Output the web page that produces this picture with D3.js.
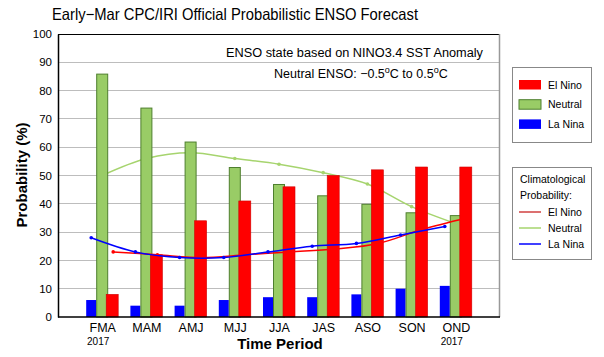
<!DOCTYPE html>
<html>
<head>
<meta charset="utf-8">
<script src="https://cdn.jsdelivr.net/npm/d3@7"></script>
<style>
  html, body { margin: 0; padding: 0; background: #fff; }
  svg { display: block; font-family: "Liberation Sans", Arial, Helvetica, sans-serif; }
</style>
</head>
<body>
<svg id="chart" width="604" height="357"></svg>
<script>
// ---- Data ----
const categories = ["FMA", "MAM", "AMJ", "MJJ", "JJA", "JAS", "ASO", "SON", "OND"];
const yearLabels = ["2017", "", "", "", "", "", "", "", "2017"];
const laNina  = [6, 4, 4, 6, 7, 7, 8, 10, 11];
const neutral = [86, 74, 62, 53, 47, 43, 40, 37, 36];
const elNino  = [8, 22, 34, 41, 46, 50, 52, 53, 53];
const climElNino  = [23, 22, 21, 22, 23, 24, 26, 31, 35];
const climNeutral = [50, 56, 58, 56, 54, 51, 47, 39, 33];
const climLaNina  = [28, 23, 21, 21, 23, 25, 26, 29, 32];
const yTicks = [0, 10, 20, 30, 40, 50, 60, 70, 80, 90, 100];

// ---- Colours ----
const cRed = "#FF0000", cGreen = "#99CC66", cGreenEdge = "#4E7F2E", cBlue = "#0000FF";
const cClimGreen = "#A6D46E";

const svg = d3.select("#chart");
svg.append("rect").attr("width", 604).attr("height", 357).attr("fill", "#fff");

const L = 58, R = 500, T = 34, B = 317;
const step = (R - L) / 10;
const x = d3.scalePoint().domain(categories).range([L + step, R - step]);
const y = d3.scaleLinear().domain([0, 100]).range([B, T]);

// gridlines
svg.append("g").selectAll("line").data(yTicks.filter(d => d > 0 && d < 100)).join("line")
  .attr("x1", L).attr("x2", R).attr("y1", d => y(d)).attr("y2", d => y(d))
  .attr("stroke", "#BDBDBD").attr("stroke-width", 1).attr("shape-rendering", "crispEdges");

// frame: top black, right gray
svg.append("line").attr("x1", L).attr("x2", R).attr("y1", T + 0.5).attr("y2", T + 0.5)
  .attr("stroke", "#000").attr("stroke-width", 1);
svg.append("line").attr("x1", R - 0.5).attr("x2", R - 0.5).attr("y1", T).attr("y2", B)
  .attr("stroke", "#999").attr("stroke-width", 1.5);

// y axis
const yAxis = svg.append("g").attr("transform", `translate(${L},0)`)
  .call(d3.axisLeft(y).tickValues(yTicks).tickSize(0).tickPadding(6));
yAxis.select(".domain").attr("stroke", "#000").attr("stroke-width", 1.5);
yAxis.selectAll("text").attr("font-size", 11.5).attr("fill", "#000")
  .attr("font-family", "Liberation Sans, Arial, sans-serif");

// climatological neutral line (behind bars)
const line = d3.line().curve(d3.curveCatmullRom.alpha(0.5));
const off = { la: -11, ne: 0, el: 11 };
function climPts(arr, dx) { return arr.map((v, i) => [x(categories[i]) + dx, y(v)]); }

const nePts = climPts(climNeutral, off.ne);
svg.append("path").attr("d", line(nePts)).attr("fill", "none")
  .attr("stroke", cClimGreen).attr("stroke-width", 1.5);
svg.append("g").selectAll("circle").data(nePts).join("circle")
  .attr("cx", d => d[0]).attr("cy", d => d[1]).attr("r", 1.8).attr("fill", cClimGreen);

// bars
const bars = svg.append("g");
bars.selectAll("rect.la").data(laNina).join("rect").attr("class", "la")
  .attr("x", (d, i) => x(categories[i]) - 16).attr("width", 10)
  .attr("y", d => y(d)).attr("height", d => B - y(d)).attr("fill", cBlue);
bars.selectAll("rect.ne").data(neutral).join("rect").attr("class", "ne")
  .attr("x", (d, i) => x(categories[i]) - 6 + 0.5).attr("width", 11)
  .attr("y", d => y(d) + 0.5).attr("height", d => B - y(d) - 0.5)
  .attr("fill", cGreen).attr("stroke", cGreenEdge).attr("stroke-width", 1);
bars.selectAll("rect.el").data(elNino).join("rect").attr("class", "el")
  .attr("x", (d, i) => x(categories[i]) + 4).attr("width", 12)
  .attr("y", d => y(d)).attr("height", d => B - y(d)).attr("fill", cRed)
  .attr("stroke", "#D00000").attr("stroke-width", 0.6);

// climatological El Nino / La Nina lines (on top)
[[climElNino, off.el, cRed], [climLaNina, off.la, cBlue]].forEach(([arr, dx, col]) => {
  const pts = climPts(arr, dx);
  svg.append("path").attr("d", line(pts)).attr("fill", "none")
    .attr("stroke", col).attr("stroke-width", 1.5);
  svg.append("g").selectAll("circle").data(pts).join("circle")
    .attr("cx", d => d[0]).attr("cy", d => d[1]).attr("r", 1.8).attr("fill", col);
});

// bottom axis
svg.append("line").attr("x1", L).attr("x2", R).attr("y1", B).attr("y2", B)
  .attr("stroke", "#000").attr("stroke-width", 1.5);
const xAxis = svg.append("g").attr("transform", `translate(0,${B})`)
  .call(d3.axisBottom(x).tickSize(0).tickPadding(6));
xAxis.select(".domain").remove();
xAxis.selectAll("text").attr("font-size", 12.5).attr("fill", "#000")
  .attr("font-family", "Liberation Sans, Arial, sans-serif");

svg.append("g").selectAll("text").data(yearLabels).join("text")
  .attr("x", (d, i) => x(categories[i]) - 4).attr("y", 345)
  .attr("text-anchor", "middle").attr("font-size", 10).text(d => d);

// axis titles
svg.append("text").attr("x", 280).attr("y", 349).attr("text-anchor", "middle")
  .attr("font-size", 15).attr("font-weight", "bold").text("Time Period");
svg.append("text").attr("transform", "translate(27,175) rotate(-90)").attr("text-anchor", "middle")
  .attr("font-size", 15).attr("font-weight", "bold").text("Probability (%)");

// title
svg.append("text").attr("x", 52).attr("y", 20).attr("font-size", 16.5)
  .attr("textLength", 366).attr("lengthAdjust", "spacingAndGlyphs")
  .text("Early\u2212Mar CPC/IRI Official Probabilistic ENSO Forecast");

// annotations
svg.append("text").attr("x", 226).attr("y", 57).attr("font-size", 12.5)
  .attr("textLength", 257).attr("lengthAdjust", "spacingAndGlyphs")
  .text("ENSO state based on NINO3.4 SST Anomaly");
const t2 = svg.append("text").attr("x", 274).attr("y", 78).attr("font-size", 12.5);
t2.append("tspan").text("Neutral ENSO: \u22120.5");
t2.append("tspan").attr("dy", -5).attr("font-size", 9).text("o");
t2.append("tspan").attr("dy", 5).text("C to 0.5");
t2.append("tspan").attr("dy", -5).attr("font-size", 9).text("o");
t2.append("tspan").attr("dy", 5).text("C");

// legend 1
const lg1 = svg.append("g");
lg1.append("rect").attr("x", 512.5).attr("y", 67.5).attr("width", 79).attr("height", 75)
  .attr("fill", "#fff").attr("stroke", "#888");
const legItems = [["El Nino", cRed, "none"], ["Neutral", cGreen, cGreenEdge], ["La Nina", cBlue, "none"]];
legItems.forEach(([lab, col, edge], i) => {
  const yy = 80 + i * 19.7;
  lg1.append("rect").attr("x", 519).attr("y", yy).attr("width", 22).attr("height", 9.5)
    .attr("fill", col).attr("stroke", edge);
  lg1.append("text").attr("x", 548).attr("y", yy + 8.5).attr("font-size", 10.5).text(lab);
});

// legend 2
const lg2 = svg.append("g");
lg2.append("rect").attr("x", 512.5).attr("y", 167.5).attr("width", 79).attr("height", 92)
  .attr("fill", "#fff").attr("stroke", "#888");
lg2.append("text").attr("x", 520).attr("y", 183).attr("font-size", 10.5).text("Climatological");
lg2.append("text").attr("x", 520).attr("y", 199).attr("font-size", 10.5).text("Probability:");
const legLines = [["El Nino", "#D04040"], ["Neutral", cClimGreen], ["La Nina", cBlue]];
legLines.forEach(([lab, col], i) => {
  const yy = 212 + i * 16;
  lg2.append("line").attr("x1", 519).attr("x2", 541).attr("y1", yy).attr("y2", yy)
    .attr("stroke", col).attr("stroke-width", 1.5);
  lg2.append("text").attr("x", 548).attr("y", yy + 4).attr("font-size", 10.5).text(lab);
});
</script>
</body>
</html>
